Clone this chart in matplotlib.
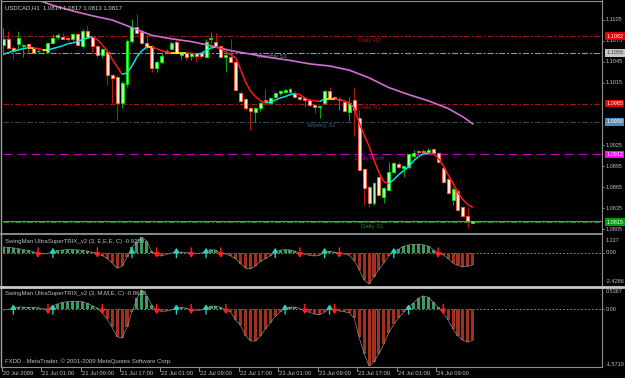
import matplotlib
matplotlib.use("Agg")
import matplotlib.pyplot as plt
from matplotlib.collections import LineCollection
from matplotlib.patches import Rectangle, FancyArrowPatch
from matplotlib.lines import Line2D
import matplotlib.transforms as mtransforms
import numpy as np

plt.rcParams['font.family'] = ['Liberation Sans', 'DejaVu Sans']
plt.rcParams['lines.scale_dashes'] = False

# ---------------- data ----------------
symbol_title = "USDCAD,H1  1.0814 1.0817 1.0813 1.0817"

opens = [1.1069, 1.1077, 1.1065, 1.1071, 1.1067, 1.1071, 1.1065, 1.1060, 1.1064, 1.1059,
         1.1072, 1.1081, 1.1081, 1.1079, 1.1077, 1.1085, 1.1067, 1.1089, 1.1081, 1.1068,
         1.1055, 1.1059, 1.1026, 1.1023, 1.0986, 1.1013, 1.1075, 1.1095, 1.1088, 1.1072,
         1.1068, 1.1036, 1.1045, 1.1058, 1.1064, 1.1074, 1.1055, 1.1057, 1.1054, 1.1057,
         1.1058, 1.1052, 1.1077, 1.1074, 1.1067, 1.1052, 1.1052, 1.1044, 1.1000, 1.0992,
         1.0979, 1.0973, 1.0978, 1.0990, 1.0986, 1.0995, 1.1000, 1.1002, 1.1002, 1.1000,
         1.0995, 1.0993, 1.0990, 1.0983, 1.0980, 1.0986, 1.1003, 1.0995, 1.0990, 1.0988,
         1.0973, 1.0990, 1.0965, 1.0891, 1.0866, 1.0843, 1.0879, 1.0851, 1.0861, 1.0887,
         1.0899, 1.0892, 1.0894, 1.0910, 1.0917, 1.0917, 1.0914, 1.0920, 1.0914, 1.0893,
         1.0877, 1.0847, 1.0860, 1.0836, 1.0824, 1.0814]
highs = [1.1094, 1.1089, 1.1067, 1.1089, 1.1071, 1.1072, 1.1067, 1.1063, 1.1065, 1.1074,
         1.1085, 1.1087, 1.1087, 1.1081, 1.1087, 1.1087, 1.1092, 1.1097, 1.1082, 1.1069,
         1.1065, 1.1062, 1.1028, 1.1026, 1.1017, 1.1077, 1.1107, 1.1114, 1.1090, 1.1084,
         1.1069, 1.1048, 1.1057, 1.1064, 1.1075, 1.1076, 1.1059, 1.1058, 1.1059, 1.1058,
         1.1059, 1.1077, 1.1088, 1.1087, 1.1068, 1.1062, 1.1078, 1.1046, 1.1003, 1.0993,
         1.0982, 1.0980, 1.0988, 1.1006, 1.0995, 1.1002, 1.1005, 1.1006, 1.1007, 1.1003,
         1.0996, 1.0995, 1.0992, 1.0985, 1.0983, 1.1005, 1.1009, 1.0996, 1.0995, 1.0990,
         1.0995, 1.1008, 1.0976, 1.0893, 1.0868, 1.0873, 1.0881, 1.0866, 1.0901, 1.0901,
         1.0901, 1.0896, 1.0913, 1.0919, 1.0919, 1.0920, 1.0921, 1.0921, 1.0916, 1.0895,
         1.0879, 1.0866, 1.0862, 1.0838, 1.0836, 1.0817]
lows = [1.1055, 1.1064, 1.1049, 1.1062, 1.1052, 1.1058, 1.1057, 1.1057, 1.1059, 1.1057,
        1.1071, 1.1077, 1.1077, 1.1075, 1.1075, 1.1067, 1.1065, 1.1079, 1.1058, 1.1052,
        1.1051, 1.1012, 1.0986, 1.0962, 1.0979, 1.1009, 1.1072, 1.1084, 1.1071, 1.1062,
        1.1031, 1.1030, 1.1042, 1.1057, 1.1062, 1.1056, 1.1049, 1.1048, 1.1048, 1.1044,
        1.1051, 1.1051, 1.1072, 1.1065, 1.1051, 1.1031, 1.1044, 1.1003, 1.0987, 1.0976,
        1.0947, 1.0959, 1.0975, 1.0986, 1.0983, 1.0993, 1.0998, 1.1000, 1.1000, 1.0993,
        1.0990, 1.0980, 1.0982, 1.0972, 1.0965, 1.0985, 1.0992, 1.0990, 1.0976, 1.0973,
        1.0960, 1.0939, 1.0889, 1.0840, 1.0837, 1.0840, 1.0852, 1.0843, 1.0860, 1.0885,
        1.0893, 1.0880, 1.0891, 1.0909, 1.0913, 1.0913, 1.0912, 1.0912, 1.0900, 1.0870,
        1.0855, 1.0840, 1.0831, 1.0822, 1.0807, 1.0813]
closes = [1.1078, 1.1065, 1.1061, 1.1079, 1.1069, 1.1067, 1.1058, 1.1061, 1.1062, 1.1072,
          1.1079, 1.1084, 1.1078, 1.1077, 1.1085, 1.1069, 1.1089, 1.1081, 1.1067, 1.1055,
          1.1064, 1.1026, 1.1022, 1.0986, 1.1015, 1.1075, 1.1095, 1.1087, 1.1072, 1.1068,
          1.1036, 1.1045, 1.1054, 1.1061, 1.1072, 1.1058, 1.1058, 1.1052, 1.1058, 1.1054,
          1.1054, 1.1074, 1.1079, 1.1067, 1.1052, 1.1055, 1.1045, 1.1005, 1.0989, 1.0979,
          1.0975, 1.0979, 1.0986, 1.0989, 1.0993, 1.1000, 1.1003, 1.1005, 1.1006, 1.0995,
          1.0992, 1.0990, 1.0983, 1.0980, 1.0982, 1.1003, 1.0993, 1.0992, 1.0992, 1.0975,
          1.0986, 1.0976, 1.0890, 1.0864, 1.0843, 1.0871, 1.0854, 1.0864, 1.0887, 1.0900,
          1.0894, 1.0895, 1.0912, 1.0914, 1.0916, 1.0916, 1.0919, 1.0914, 1.0901, 1.0873,
          1.0857, 1.0863, 1.0833, 1.0823, 1.0816, 1.0817]

fast_ma = [1.1056, 1.1058, 1.1061, 1.1062, 1.1064, 1.1065, 1.1065, 1.1064, 1.1062, 1.1062,
           1.1064, 1.1066, 1.1068, 1.1071, 1.1072, 1.1074, 1.1077, 1.1079, 1.1081, 1.1077,
           1.1069, 1.1061, 1.1049, 1.1038, 1.1027, 1.1029, 1.1039, 1.1052, 1.1061, 1.1066,
           1.1066, 1.1064, 1.1061, 1.1059, 1.1058, 1.1058, 1.1058, 1.1058, 1.1057, 1.1056,
           1.1057, 1.1061, 1.1065, 1.1066, 1.1064, 1.1059, 1.1055, 1.1051, 1.1034, 1.1016,
           1.1003, 1.0995, 1.0989, 1.0986, 1.0987, 1.0990, 1.0993, 1.0995, 1.0998, 1.0999,
           1.0998, 1.0993, 1.0990, 1.0989, 1.0988, 1.0992, 1.0992, 1.0992, 1.0990, 1.0989,
           1.0986, 1.0979, 1.0957, 1.0940, 1.0924, 1.0904, 1.0886, 1.0873, 1.0870, 1.0876,
           1.0883, 1.0889, 1.0894, 1.0903, 1.0909, 1.0913, 1.0914, 1.0913, 1.0907, 1.0896,
           1.0883, 1.0871, 1.0857, 1.0847, 1.0840, 1.0836]

slow_ma_bars = [6, 10, 14, 18, 22, 26, 30, 34, 38, 42, 46, 50, 54, 58, 62, 66, 70, 74, 78, 82, 86, 90, 93, 95]
slow_ma_vals = [1.1136, 1.1126, 1.1118, 1.1111, 1.1105, 1.1094, 1.1083, 1.1078, 1.1074, 1.1068,
                1.1061, 1.1056, 1.1051, 1.1047, 1.1042, 1.1039, 1.1033, 1.1022, 1.1008, 1.0998,
                1.0989, 1.0978, 1.0966, 1.0956]

level_names = ["Daily R2", "Monthly S1", "Daily R1", "Weekly S1", "Daily Pivot", "Daily S1"]
level_values = [1.1082, 1.1058, 1.0985, 1.0959, 1.0912, 1.0815]
bid_price = 1.0817

price_ticks = [1.1105, 1.1075, 1.1045, 1.1015, 1.0925, 1.0895, 1.0865, 1.0835, 1.0805]

time_labels = ["20 Jul 2009", "21 Jul 01:00", "21 Jul 09:00", "21 Jul 17:00", "22 Jul 01:00",
               "22 Jul 09:00", "22 Jul 17:00", "23 Jul 01:00", "23 Jul 09:00", "23 Jul 17:00",
               "24 Jul 01:00", "24 Jul 09:00"]
time_label_bars = [0, 8, 16, 24, 32, 40, 48, 56, 64, 72, 80, 88]

trix1_title = "SwingMan UltraSuperTRIX_v2 (3, E,E,E, C) -0.9289"
trix1 = [0.45, 0.42, 0.38, 0.32, 0.25, 0.18, 0.08, -0.05, -0.10, -0.05,
         0.08, 0.18, 0.22, 0.25, 0.25, 0.22, 0.18, 0.12, 0.04, -0.10,
         -0.22, -0.45, -0.80, -1.20, -1.05, -0.35, 0.45, 0.85, 1.227, 0.90,
         0.10, -0.20, -0.25, -0.12, -0.02, 0.05, 0.05, 0.02, -0.05, -0.05,
         -0.02, 0.12, 0.25, 0.20, -0.03, -0.10, -0.25, -0.45, -0.85, -1.20,
         -1.25, -1.00, -0.68, -0.45, -0.25, 0.05, 0.20, 0.25, 0.22, 0.12,
         -0.02, -0.12, -0.20, -0.25, -0.20, 0.05, 0.10, 0.05, -0.05, -0.10,
         -0.20, -0.60, -1.30, -2.10, -2.4286, -1.85, -1.30, -0.80, -0.25, 0.10,
         0.28, 0.50, 0.60, 0.65, 0.67, 0.62, 0.52, 0.25, -0.05, -0.15,
         -0.45, -0.80, -0.98, -1.10, -1.05, -0.93]
trix1_up = [10, 26, 35, 41, 55, 65, 79]
trix1_down = [7, 19, 31, 38, 44, 60, 68, 88]
trix1_scale = ["1.227", "0.00", "-2.4286"]

trix2_title = "SwingMan UltraSuperTRIX_v2 (3, M,M,E, C) -0.8618"
trix2 = [-0.02, -0.01, 0.04, 0.06, 0.06, 0.05, 0.05, 0.04, 0.02, -0.02,
         0.10, 0.15, 0.19, 0.21, 0.22, 0.22, 0.21, 0.16, 0.10, 0.03,
         -0.10, -0.28, -0.50, -0.76, -0.80, -0.50, -0.08, 0.30, 0.5367, 0.38,
         0.12, -0.04, -0.06, -0.05, -0.02, 0.04, 0.05, 0.03, -0.02, -0.03,
         -0.02, 0.03, 0.08, 0.09, 0.05, -0.03, -0.08, -0.30, -0.45, -0.73,
         -0.88, -0.88, -0.75, -0.55, -0.38, -0.20, -0.08, 0.03, 0.06, 0.06,
         0.02, -0.05, -0.09, -0.14, -0.15, -0.08, 0.02, -0.02, -0.05, -0.07,
         -0.10, -0.25, -0.78, -1.23, -1.5719, -1.46, -1.23, -0.96, -0.65, -0.42,
         -0.24, -0.09, 0.06, 0.18, 0.30, 0.37, 0.33, 0.20, 0.05, -0.10,
         -0.30, -0.55, -0.74, -0.86, -0.91, -0.86]
trix2_up = [2, 10, 35, 41, 57, 66, 82]
trix2_down = [9, 20, 31, 38, 45, 61, 67, 89]
trix2_scale = ["0.5367", "0.00", "-1.5719"]

footer = "FXDD - MetaTrader, \u00a9 2001-2009 MetaQuotes Software Corp."

# ---------------- layout helpers ----------------
W, H = 625, 378
fig = plt.figure(figsize=(W / 100, H / 100), dpi=100, facecolor='black')

def add_ax(x0, y0, x1, y1):
    a = fig.add_axes([x0 / W, 1 - y1 / H, (x1 - x0) / W, (y1 - y0) / H])
    a.set_facecolor('black')
    for s in a.spines.values():
        s.set_visible(False)
    a.set_xticks([])
    a.set_yticks([])
    return a

def fig_line(x0, y0, x1, y1, color, lw):
    fig.add_artist(Line2D([x0 / W, x1 / W], [1 - y0 / H, 1 - y1 / H],
                          transform=fig.transFigure, color=color, lw=lw))

def fig_text(x, y, s, **kw):
    fig.text(x / W, 1 - y / H, s, **kw)

XL, XR = 3, 602
PX_PER_BAR = 4.94
XMIN = -0.1
XMAX = XMIN + (XR - XL) / PX_PER_BAR

ax = add_ax(XL, 2, XR, 233)
ax1 = add_ax(XL, 236, XR, 285)
ax2 = add_ax(XL, 289, XR, 367)
for a in (ax, ax1, ax2):
    a.set_xlim(XMIN, XMAX)

ax.set_ylim(1.07993, 1.11308)
ax1.set_ylim(-2.50, 1.30)
ax2.set_ylim(-1.60, 0.56)

TXT = '#c0c0c0'
FS = 4.3
idx = np.arange(len(opens))

# ---------------- main chart ----------------
dashdot = (0, (4.3, 1.4, 1.4, 1.4))
level_colors = ['#a01818', '#8f9aa6', '#a01818', '#2a4b5c', '#c000c0', '#1e8c1e']
level_styles = [dashdot, dashdot, dashdot, dashdot, (0, (6.5, 3.6)), dashdot]
level_label_x = [0.593, 0.424, 0.593, 0.507, 0.588, 0.597]
for name, val, col, ls, lx in zip(level_names, level_values, level_colors, level_styles, level_label_x):
    ax.axhline(val, color=col, lw=0.8, ls=ls, zorder=1)
    lab_col = {'#8f9aa6': '#7f8a96', '#2a4b5c': '#3d6070'}.get(col, col)
    ax.annotate(name, xy=(lx, val), xycoords=('axes fraction', 'data'),
                xytext=(0, -1.2), textcoords='offset points', va='top', ha='left',
                fontsize=FS, color=lab_col, zorder=2)
ax.axhline(bid_price, color='#808080', lw=0.8, zorder=1)

for i in idx:
    o, h, l, c = opens[i], highs[i], lows[i], closes[i]
    bull = c >= o
    ax.vlines(i, l, h, color='#00a800' if bull else '#b01a10', lw=0.75, zorder=3)
    bottom = min(o, c)
    height = max(abs(c - o), 0.00005)
    ax.add_patch(Rectangle((i - 0.3, bottom), 0.6, height,
                           facecolor='#a8ffa8' if bull else '#fff2ec',
                           edgecolor='#00e600' if bull else '#ff5a3a',
                           lw=0.7, zorder=4))

# slow MA
ax.plot(slow_ma_bars, slow_ma_vals, color='#d070d0', lw=1.2, zorder=5)

# fast MA coloured by slope
fm = np.array(fast_ma)
segs, cols = [], []
for i in range(len(fm) - 1):
    d = fm[i + 1] - fm[i]
    segs.append([(i, fm[i]), (i + 1, fm[i + 1])])
    if d > 0.00006:
        cols.append('#00e8e8')
    elif d < -0.00006:
        cols.append('#ff1a1a')
    else:
        cols.append('#ffff00')
ax.add_collection(LineCollection(segs, colors=cols, linewidths=1.1, zorder=6))

# right price scale
tr_main = mtransforms.blended_transform_factory(ax.transAxes, ax.transData)
for p in price_ticks:
    ax.text(1.006, p, f"{p:.4f}", transform=tr_main, fontsize=4.0, color=TXT,
            va='center', ha='left', clip_on=False)
    ax.plot([1.0, 1.004], [p, p], transform=tr_main, color='#808080', lw=0.6, clip_on=False)

box_specs = [(level_values[0], '#e00000', 'white'), (level_values[1], '#c8c8c8', '#404040'),
             (level_values[2], '#e00000', 'white'), (level_values[3], '#4c8cc0', 'white'),
             (level_values[4], '#ff00ff', 'white'), (level_values[5], '#00a000', 'white')]
for val, bg, fg in box_specs:
    ax.text(1.007, val, f"{val:.4f}", transform=tr_main, fontsize=4.0, color=fg,
            va='center', ha='left', clip_on=False, zorder=10,
            bbox=dict(boxstyle='square,pad=0.25', fc=bg, ec='none'))

fig_text(5, 8, symbol_title, fontsize=FS, color='#d0d0d0', va='center', ha='left')

# ---------------- indicator panels ----------------
def draw_trix(a, vals, ups, downs, title, title_y, scale, scale_fracs, half):
    v = np.array(vals)
    a.axhline(0, color='#b0a070', lw=0.6, ls=(0, (1.2, 1.4)), zorder=1)
    colors = ['#3a9a62' if x >= 0 else '#a3301c' for x in v]
    a.bar(idx, v, width=0.62, color=colors, lw=0, zorder=2)
    a.plot(idx, v, color='#8c8c8c', lw=0.5, zorder=3)
    style = '-|>,head_length=0.26,head_width=0.17'
    for i in ups:
        a.add_patch(FancyArrowPatch((i, -half), (i, half), arrowstyle=style,
                                    mutation_scale=10, color='#2ad0b8', lw=1.0,
                                    shrinkA=0, shrinkB=0, zorder=5))
    for i in downs:
        a.add_patch(FancyArrowPatch((i, half), (i, -half), arrowstyle=style,
                                    mutation_scale=10, color='#ff2020', lw=1.0,
                                    shrinkA=0, shrinkB=0, zorder=5))
    fig_text(5, title_y, title, fontsize=FS, color=TXT, va='center', ha='left')
    tr = mtransforms.blended_transform_factory(a.transAxes, a.transAxes)
    trd = mtransforms.blended_transform_factory(a.transAxes, a.transData)
    a.text(1.006, scale_fracs[0], scale[0], transform=tr, fontsize=4.0, color=TXT,
           va='center', ha='left', clip_on=False)
    a.text(1.006, 0, scale[1], transform=trd, fontsize=4.0, color=TXT,
           va='center', ha='left', clip_on=False)
    a.text(1.006, scale_fracs[1], scale[2], transform=tr, fontsize=4.0, color=TXT,
           va='center', ha='left', clip_on=False)
    a.plot([1.0, 1.004], [0, 0], transform=trd, color='#808080', lw=0.6, clip_on=False)

draw_trix(ax1, trix1, trix1_up, trix1_down, trix1_title, 241, trix1_scale, (0.918, 0.071), 0.38)
draw_trix(ax2, trix2, trix2_up, trix2_down, trix2_title, 294, trix2_scale, (0.974, 0.038), 0.135)

fig_text(5, 361, footer, fontsize=FS, color=TXT, va='center', ha='left')

# ---------------- frame / separators ----------------
fig_line(1.5, 0, 1.5, 367, '#a0a0a0', 1.0)
fig_line(XR, 0, XR, 367, '#909090', 0.8)
fig_line(1.5, 0.8, XR, 0.8, '#909090', 0.8)
fig_line(1.5, 234.2, XR, 234.2, '#8c96a0', 1.3)
fig_line(1.5, 287.3, 625, 287.3, '#c8c8c8', 2.0)
fig_line(1.5, 367, XR, 367, '#909090', 0.8)

# time axis
for b, lab in zip(time_label_bars, time_labels):
    xp = XL + (b - 0.4 - XMIN) * PX_PER_BAR
    fig_line(xp, 367, xp, 370.5, '#909090', 0.7)
    fig_text(xp + 1.2, 373.5, lab, fontsize=4.2, color=TXT, va='center', ha='left')

fig.savefig("out.png", dpi=100, facecolor='black')
